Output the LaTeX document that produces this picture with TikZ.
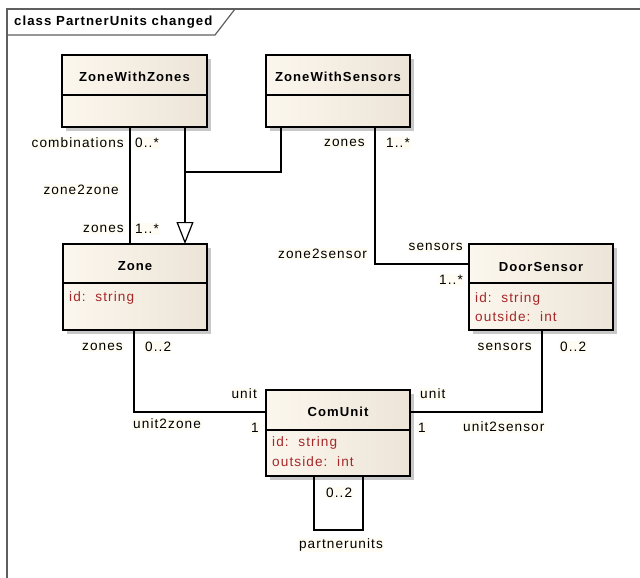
\documentclass[tikz,border=0pt]{standalone}
\usepackage{fontspec}
\setmainfont{Liberation Sans}[LetterSpace=8]
\usetikzlibrary{arrows.meta,shadows}

\definecolor{boxL}{RGB}{252,247,238}
\definecolor{boxR}{RGB}{236,228,215}
\definecolor{attrred}{RGB}{165,40,40}
\definecolor{shadowgray}{RGB}{200,200,200}
\definecolor{framegray}{RGB}{95,95,95}
\definecolor{lblbg}{RGB}{255,253,243}

\tikzset{
  classbox/.style={draw=black, line width=1.2pt, outer sep=0pt, inner sep=0pt,
    left color=boxL, right color=boxR,
    drop shadow={shadow xshift=4pt, shadow yshift=-4pt, fill=shadowgray, opacity=1}},
  divider/.style={draw=black, line width=1.2pt},
  classname/.style={font=\bfseries\fontsize{13.1}{15}\selectfont, inner sep=0pt},
  attrib/.style={font=\fontsize{13.6}{15}\selectfont, text=attrred, inner sep=0pt, anchor=west},
  assoc/.style={draw=black, line width=1.2pt},
  lbl/.style={font=\fontsize{13.6}{15}\selectfont, inner sep=1pt, fill=lblbg},
  gentip/.style={-{Triangle[length=22pt, width=17pt, fill=white, line width=1.2pt]}},
}

\begin{document}
\begin{tikzpicture}[x=1pt, y=-1pt]
\useasboundingbox (0,0) rectangle (640,578);

% diagram frame with name tab
\draw[framegray, line width=1.6pt] (7,578) -- (7,9) -- (640,9);
\draw[framegray, line width=1.2pt] (7,35) -- (215,35) -- (235,9);
\node[font=\bfseries\fontsize{13.2}{15}\selectfont, anchor=west, inner sep=0pt] (frametitle) at (14,22) {class PartnerUnits changed};

% classes
\node[classbox, minimum width=145pt, minimum height=72pt] (zwz) at (134.5,91) {};
\draw[divider] (zwz.west |- 0,95) -- (zwz.east |- 0,95);
\node[classname] (zwzname) at (134.5,77) {ZoneWithZones};

\node[classbox, minimum width=144pt, minimum height=72pt] (zws) at (338,91) {};
\draw[divider] (zws.west |- 0,95) -- (zws.east |- 0,95);
\node[classname] (zwsname) at (338,77) {ZoneWithSensors};

\node[classbox, minimum width=144pt, minimum height=86pt] (zone) at (135,287) {};
\draw[divider] (zone.west |- 0,283) -- (zone.east |- 0,283);
\node[classname] (zonename) at (135,266) {Zone};
\node[attrib] (zoneid) at (69,298) {id:\ \ string};

\node[classbox, minimum width=144pt, minimum height=86pt] (door) at (541,287) {};
\draw[divider] (door.west |- 0,283) -- (door.east |- 0,283);
\node[classname] (doorname) at (541,267) {DoorSensor};
\node[attrib] (doorid) at (475,299) {id:\ \ string};
\node[attrib] (dooroutside) at (475,317) {outside:\ \ int};

\node[classbox, minimum width=144pt, minimum height=86pt] (com) at (338,433) {};
\draw[divider] (com.west |- 0,430) -- (com.east |- 0,430);
\node[classname] (comname) at (338,412) {ComUnit};
\node[attrib] (comid) at (272,443) {id:\ \ string};
\node[attrib] (comoutside) at (272,462) {outside:\ \ int};

% generalization ZoneWithZones / ZoneWithSensors -> Zone
\coordinate (genjoin) at (185,172);
\draw[assoc] (zws.south -| 281,0) |- (genjoin);
\draw[assoc, gentip] (zwz.south -| 185,0) -- (zone.north -| 185,0);

% zone2zone
\draw[assoc] (zwz.south -| 130,0) -- (zone.north -| 130,0);
\node[lbl, anchor=east] (l1) at (125,143) {combinations};
\node[lbl, anchor=west] (l2) at (134,143) {0..*};
\node[lbl, anchor=east] (l3) at (120,190) {zone2zone};
\node[lbl, anchor=east] (l4) at (125,229) {zones};
\node[lbl, anchor=west] (l5) at (134,229) {1..*};

% zone2sensor
\draw[assoc] (zws.south -| 375,0) |- (door.west |- 0,264);
\node[lbl, anchor=east] (l6) at (366,143) {zones};
\node[lbl, anchor=west] (l7) at (385,143) {1..*};
\node[lbl, anchor=west] (l8) at (277,254) {zone2sensor};
\node[lbl, anchor=east] (l9) at (464,247) {sensors};
\node[lbl, anchor=east] (l10) at (464,280) {1..*};

% unit2zone
\draw[assoc] (zone.south -| 134,0) |- (com.west |- 0,412);
\node[lbl, anchor=east] (l11) at (124,347) {zones};
\node[lbl, anchor=west] (l12) at (144,347) {0..2};
\node[lbl, anchor=east] (l13) at (258,394) {unit};
\node[lbl, anchor=west] (l14) at (132,424) {unit2zone};
\node[lbl, anchor=east] (l15) at (260,428) {1};

% unit2sensor
\draw[assoc] (door.south -| 542,0) |- (com.east |- 0,412);
\node[lbl, anchor=east] (l16) at (533,347) {sensors};
\node[lbl, anchor=west] (l17) at (559,347) {0..2};
\node[lbl, anchor=west] (l18) at (419,394) {unit};
\node[lbl, anchor=west] (l19) at (417,428) {1};
\node[lbl, anchor=west] (l20) at (462,427) {unit2sensor};

% partnerunits (self association)
\draw[assoc] (com.south -| 314,0) -- (314,530) -- (363,530) -- (com.south -| 363,0);
\node[lbl, anchor=west] (l21) at (325,493) {0..2};
\node[lbl] (l22) at (341,545) {partnerunits};

\end{tikzpicture}
\end{document}
